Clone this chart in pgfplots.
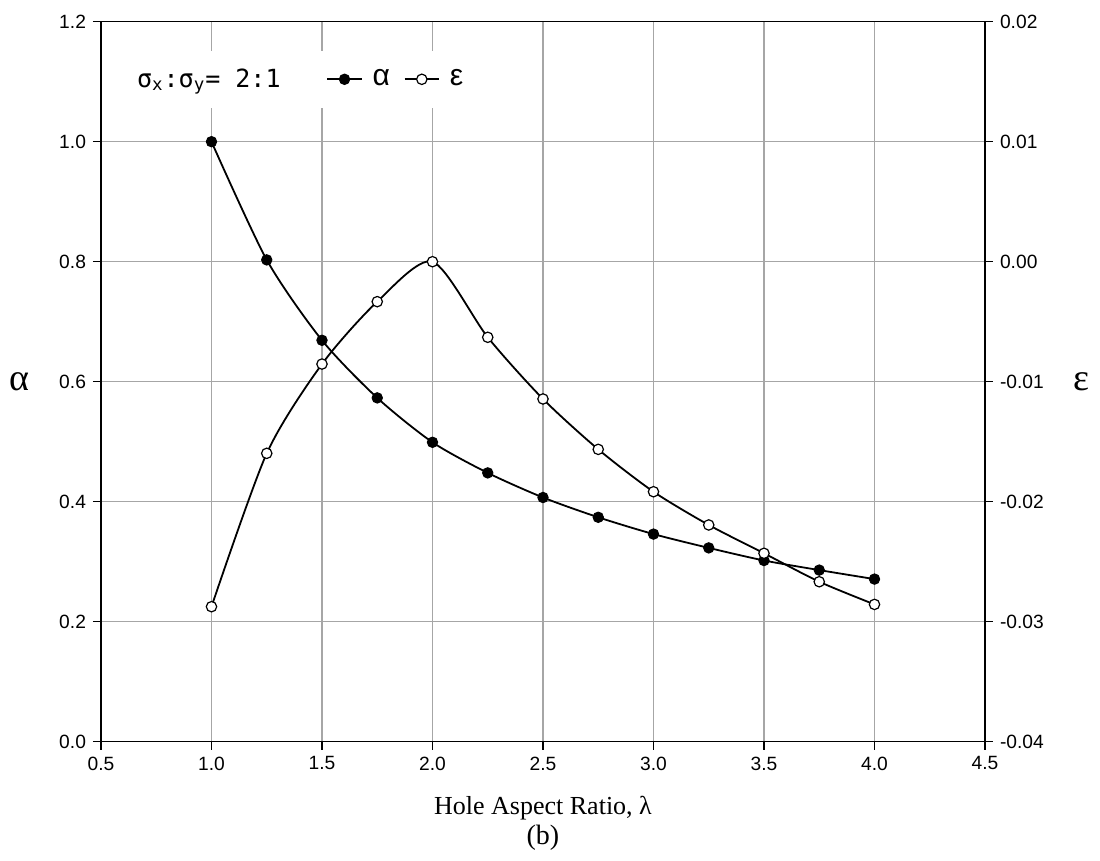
\documentclass[border=0pt]{standalone}
\usepackage{fontspec}
\setmainfont{Liberation Sans}
\newfontfamily\seriffont{Liberation Serif}
\newfontfamily\monofont{DejaVu Sans Mono}
\usepackage{pgfplots}
\pgfplotsset{compat=1.18}

\pgfplotsset{
  basestyle/.style={
    scale only axis, width=442pt, height=360pt,
    xmin=0.5, xmax=4.5,
    tick align=outside, major tick length=4pt,
    tick style={black, line width=0.6pt},
    ticklabel style={font=\fontsize{9.6}{11}\selectfont},
    /pgf/number format/assume math mode=true,
    clip mode=individual,
  },
  alphastyle/.style={black, line width=0.9pt, smooth, tension=0.45,
    mark=*, mark size=2.6pt, mark options={fill=black, draw=black, line width=0.5pt}},
  epsstyle/.style={black, line width=0.9pt, smooth, tension=0.45,
    mark=*, mark size=2.6pt, mark options={fill=white, draw=black, line width=0.6pt}},
}

\begin{document}
\begin{tikzpicture}
  \path[use as bounding box] (-50.5pt,-59.65pt) rectangle (499.5pt,370.85pt);

  % left axis: alpha
  \begin{axis}[
    basestyle,
    ymin=0, ymax=1.2,
    xtick={0.5,1.0,...,4.5},
    ytick={0,0.2,...,1.2},
    xtick pos=lower, ytick pos=left,
    xticklabel style={/pgf/number format/fixed, /pgf/number format/fixed zerofill, /pgf/number format/precision=1},
    yticklabel style={/pgf/number format/fixed, /pgf/number format/fixed zerofill, /pgf/number format/precision=1},
    grid=major,
    major grid style={gray!70, line width=0.6pt},
    axis line style={black, line width=0.8pt},
    xlabel={Hole Aspect Ratio, λ},
    xlabel style={font=\seriffont\fontsize{13}{15}\selectfont, at={(axis description cs:0.5,-0.1014)}, anchor=base},
    ylabel={α},
    ylabel style={font=\seriffont\fontsize{19}{20}\selectfont, rotate=-90, at={(axis description cs:-0.0928,0.5)}, anchor=center},
  ]
    \addplot[alphastyle] coordinates {
      (1.00,1.000) (1.25,0.803) (1.50,0.669) (1.75,0.573) (2.00,0.499)
      (2.25,0.448) (2.50,0.407) (2.75,0.374) (3.00,0.346) (3.25,0.323)
      (3.50,0.302) (3.75,0.286) (4.00,0.271)
    };
    \node[font=\seriffont\fontsize{14}{16}\selectfont, anchor=base] at (axis description cs:0.5,-0.1431) {(b)};
  \end{axis}

  % right axis: epsilon
  \begin{axis}[
    basestyle,
    ymin=-0.04, ymax=0.02,
    axis x line=none,
    axis y line*=right,
    axis line style={black, line width=0.8pt},
    ytick={-0.04,-0.03,-0.02,-0.01,0,0.01,0.02},
    scaled y ticks=false,
    yticklabel style={/pgf/number format/fixed, /pgf/number format/fixed zerofill, /pgf/number format/precision=2},
    ylabel={ε},
    ylabel style={font=\seriffont\fontsize{19}{20}\selectfont, rotate=-90, at={(axis description cs:1.1097,0.5)}, anchor=center},
    legend columns=-1,
    legend style={at={(axis description cs:0.02,0.92)}, anchor=west, draw=none, fill=white,
      font=\fontsize{15}{16}\selectfont, inner xsep=4pt, inner ysep=7pt,
      /tikz/every odd column/.append style={column sep=3pt},
      /tikz/every even column/.append style={column sep=5pt}},
  ]
    \addlegendimage{empty legend}
    \addlegendentry{\monofont\fontsize{12.5}{14}\selectfont σ\textsubscript{x}:σ\textsubscript{y}=~2:1\hspace*{16pt}}
    \addlegendimage{alphastyle}
    \addlegendentry{α}
    \addplot[epsstyle] coordinates {
      (1.00,-0.02875) (1.25,-0.01597) (1.50,-0.00853) (1.75,-0.00333) (2.00,0.00000)
      (2.25,-0.00630) (2.50,-0.01144) (2.75,-0.01564) (3.00,-0.01917) (3.25,-0.02194)
      (3.50,-0.02430) (3.75,-0.02667) (4.00,-0.02856)
    };
    \addlegendentry{ε}
  \end{axis}
\end{tikzpicture}
\end{document}
